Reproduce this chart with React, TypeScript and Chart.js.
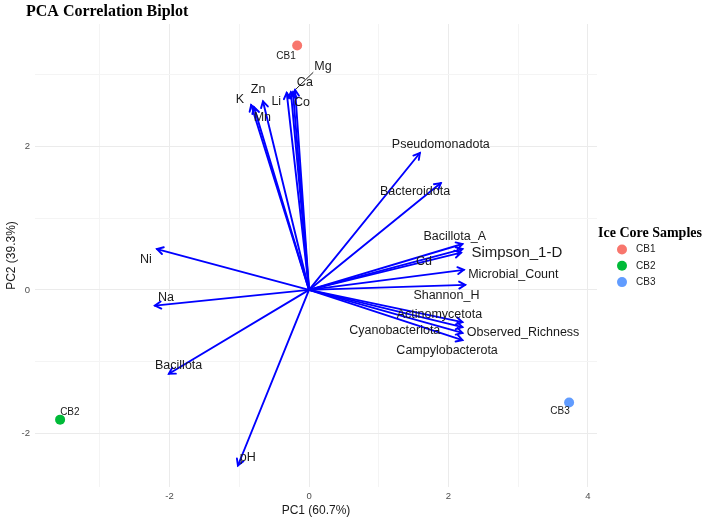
import React, { useEffect, useRef } from 'react';
import { Chart, registerables } from 'chart.js';
Chart.register(...registerables);

const sampleNames = ['CB1', 'CB2', 'CB3'];
const samplePC1 = [-0.17, -3.57, 3.73];
const samplePC2 = [3.41, -1.81, -1.57];
const sampleColors = ['#F8766D', '#00BA38', '#619CFF'];
const sampleLabelPC1 = [-0.33, -3.43, 3.6];
const sampleLabelPC2 = [3.26, -1.71, -1.7];

const variableNames = [
  'K', 'Mn', 'Zn', 'Li', 'Ca', 'Co', 'Mg',
  'Pseudomonadota', 'Bacteroidota', 'Bacillota_A', 'Simpson_1-D', 'Cd',
  'Microbial_Count', 'Shannon_H', 'Actinomycetota', 'Cyanobacteriota',
  'Observed_Richness', 'Campylobacterota', 'Ni', 'Na', 'Bacillota', 'pH',
];
const loadingPC1 = [
  -0.83, -0.79, -0.66, -0.32, -0.26, -0.23, -0.2,
  1.59, 1.89, 2.2, 2.2, 2.18,
  2.22, 2.24, 2.2, 2.2,
  2.2, 2.2, -2.18, -2.21, -2.01, -1.02,
];
const loadingPC2 = [
  2.58, 2.55, 2.63, 2.75, 2.76, 2.76, 2.79,
  1.91, 1.49, 0.64, 0.57, 0.52,
  0.28, 0.07, -0.45, -0.52,
  -0.6, -0.7, 0.57, -0.22, -1.17, -2.45,
];
const varLabelPC1 = [
  -0.99, -0.67, -0.73, -0.47, -0.06, -0.1, 0.2,
  1.89, 1.52, 2.09, 2.98, 1.65,
  2.93, 1.97, 1.87, 1.23,
  3.07, 1.98, -2.34, -2.05, -1.87, -0.88,
];
const varLabelPC2 = [
  2.65, 2.41, 2.79, 2.63, 2.89, 2.62, 3.11,
  2.03, 1.37, 0.75, 0.52, 0.4,
  0.22, -0.08, -0.35, -0.57,
  -0.6, -0.85, 0.42, -0.1, -1.06, -2.34,
];
const bigLabels = ['Simpson_1-D'];
const segmentLabels = ['Mg'];

const xTicks = [-3, -2, -1, 0, 1, 2, 3, 4];
const yTicks = [-2, -1, 0, 1, 2, 3];
const xTitle = 'PC1 (60.7%)';
const yTitle = 'PC2 (39.3%)';
const chartTitle = 'PCA Correlation Biplot';
const legendTitle = 'Ice Core Samples';

const SANS = '"Liberation Sans", Arial, sans-serif';
const SERIF = '"Liberation Serif", "Times New Roman", serif';

const biplotPlugin = {
  id: 'biplot',
  beforeDatasetsDraw(chart: any) {
    const { ctx, scales } = chart;
    const xs = scales.x;
    const ys = scales.y;
    const ox = xs.getPixelForValue(0);
    const oy = ys.getPixelForValue(0);
    ctx.save();
    ctx.strokeStyle = '#0000FF';
    ctx.lineWidth = 1.9;
    ctx.lineCap = 'round';
    for (let i = 0; i < variableNames.length; i++) {
      const ex = xs.getPixelForValue(loadingPC1[i]);
      const ey = ys.getPixelForValue(loadingPC2[i]);
      ctx.beginPath();
      ctx.moveTo(ox, oy);
      ctx.lineTo(ex, ey);
      ctx.stroke();
      const ang = Math.atan2(ey - oy, ex - ox);
      const len = 7;
      const spread = Math.PI / 6;
      ctx.beginPath();
      ctx.moveTo(ex - len * Math.cos(ang - spread), ey - len * Math.sin(ang - spread));
      ctx.lineTo(ex, ey);
      ctx.lineTo(ex - len * Math.cos(ang + spread), ey - len * Math.sin(ang + spread));
      ctx.stroke();
    }
    ctx.restore();
  },
  afterDatasetsDraw(chart: any) {
    const { ctx, scales } = chart;
    const xs = scales.x;
    const ys = scales.y;
    ctx.save();
    ctx.textAlign = 'center';
    ctx.textBaseline = 'middle';
    for (let i = 0; i < variableNames.length; i++) {
      const name = variableNames[i];
      const lx = xs.getPixelForValue(varLabelPC1[i]);
      const ly = ys.getPixelForValue(varLabelPC2[i]);
      const size = bigLabels.includes(name) ? 15 : 12.5;
      ctx.font = `${size}px ${SANS}`;
      if (segmentLabels.includes(name)) {
        const ex = xs.getPixelForValue(loadingPC1[i]);
        const ey = ys.getPixelForValue(loadingPC2[i]);
        const w = ctx.measureText(name).width;
        const bx = lx - w / 2 - 1;
        const by = ly + size / 2 - 1;
        ctx.strokeStyle = '#222222';
        ctx.lineWidth = 1;
        ctx.beginPath();
        ctx.moveTo(ex + 1, ey - 1);
        ctx.lineTo(bx, by);
        ctx.stroke();
      }
      ctx.fillStyle = '#1A1A1A';
      ctx.fillText(name, lx, ly);
    }
    ctx.font = `10px ${SANS}`;
    for (let i = 0; i < sampleNames.length; i++) {
      ctx.fillStyle = '#1A1A1A';
      ctx.fillText(
        sampleNames[i],
        xs.getPixelForValue(sampleLabelPC1[i]),
        ys.getPixelForValue(sampleLabelPC2[i])
      );
    }
    ctx.restore();
  },
  afterDraw(chart: any) {
    const { ctx, chartArea } = chart;
    ctx.save();
    ctx.fillStyle = '#000000';
    ctx.font = `bold 16px ${SERIF}`;
    ctx.textAlign = 'left';
    ctx.textBaseline = 'middle';
    ctx.fillText(chartTitle, 26, 12);
    ctx.font = `12px ${SANS}`;
    ctx.fillStyle = '#1A1A1A';
    ctx.textAlign = 'center';
    ctx.fillText(xTitle, (chartArea.left + chartArea.right) / 2, 511);
    ctx.save();
    ctx.translate(12, (chartArea.top + chartArea.bottom) / 2);
    ctx.rotate(-Math.PI / 2);
    ctx.fillText(yTitle, 0, 0);
    ctx.restore();
    ctx.textAlign = 'left';
    ctx.fillStyle = '#000000';
    ctx.font = `bold 14px ${SERIF}`;
    ctx.fillText(legendTitle, 598, 233);
    ctx.font = `10px ${SANS}`;
    for (let i = 0; i < sampleNames.length; i++) {
      const cy = 249.5 + i * 16.3;
      ctx.fillStyle = sampleColors[i];
      ctx.beginPath();
      ctx.arc(622, cy, 5, 0, Math.PI * 2);
      ctx.fill();
      ctx.fillStyle = '#1A1A1A';
      ctx.fillText(sampleNames[i], 636, cy);
    }
    ctx.restore();
  },
};

const gridColor = (ctx: any) =>
  ctx.tick && Math.abs(ctx.tick.value % 2) === 0 ? '#EBEBEB' : '#F4F4F4';

export default function App() {
  const ref = useRef<HTMLCanvasElement | null>(null);
  useEffect(() => {
    if (!ref.current) return;
    const chart = new Chart(ref.current, {
      type: 'scatter',
      data: {
        datasets: [
          {
            label: 'samples',
            data: samplePC1.map((x, i) => ({ x, y: samplePC2[i] })),
            backgroundColor: sampleColors,
            borderWidth: 0,
            pointRadius: 5,
          },
        ],
      },
      options: {
        animation: false,
        responsive: false,
        devicePixelRatio: 1,
        layout: { padding: { top: 24, right: 111, left: 0, bottom: 0 } },
        plugins: {
          legend: { display: false },
          tooltip: { enabled: false },
          title: { display: false },
        },
        scales: {
          x: {
            type: 'linear',
            min: -3.93,
            max: 4.13,
            afterBuildTicks: (s: any) => {
              s.ticks = xTicks.map((v) => ({ value: v }));
            },
            afterFit: (s: any) => {
              s.height = 38;
            },
            grid: { color: gridColor, lineWidth: 1, drawTicks: false },
            border: { display: false },
            ticks: {
              autoSkip: false,
              maxRotation: 0,
              padding: 4,
              color: '#4D4D4D',
              font: { size: 9.5, family: SANS },
              callback: (v: any) => (Math.abs(v % 2) === 0 ? String(v) : ''),
            },
          },
          y: {
            type: 'linear',
            min: -2.75,
            max: 3.71,
            afterBuildTicks: (s: any) => {
              s.ticks = yTicks.map((v) => ({ value: v }));
            },
            afterFit: (s: any) => {
              s.width = 35;
            },
            grid: { color: gridColor, lineWidth: 1, drawTicks: false },
            border: { display: false },
            ticks: {
              autoSkip: false,
              padding: 5,
              color: '#4D4D4D',
              font: { size: 9.5, family: SANS },
              callback: (v: any) => (Math.abs(v % 2) === 0 ? String(v) : ''),
            },
          },
        },
      },
      plugins: [biplotPlugin],
    } as any);
    return () => chart.destroy();
  }, []);
  return (
    <div style={{ position: 'absolute', left: 0, top: 0, width: 708, height: 525, background: '#fff' }}>
      <canvas ref={ref} width={708} height={525} style={{ display: 'block' }} />
    </div>
  );
}
